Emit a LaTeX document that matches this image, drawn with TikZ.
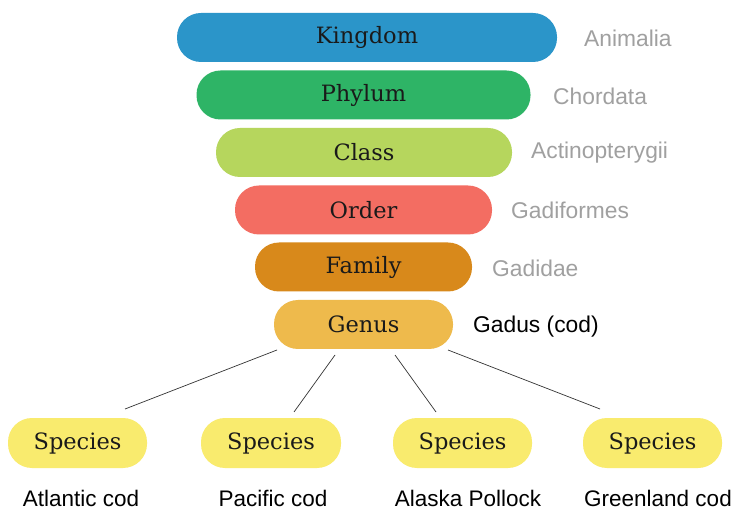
\documentclass[tikz,border=0pt]{standalone}
\usepackage{fontspec}
\setmainfont{DejaVu Serif}
\newfontfamily\labelfont{Liberation Sans}
\definecolor{ckingdom}{HTML}{2B95C9}
\definecolor{cphylum}{HTML}{2EB466}
\definecolor{cclass}{HTML}{B6D65D}
\definecolor{corder}{HTML}{F36D62}
\definecolor{cfamily}{HTML}{D8891B}
\definecolor{cgenus}{HTML}{EEBA4C}
\definecolor{cspecies}{HTML}{F9EB6E}
\definecolor{cgray}{HTML}{A0A0A0}
\definecolor{ctext}{HTML}{1A1A1A}
\begin{document}
\begin{tikzpicture}[x=1pt,y=-1pt,
  rankbox/.style={rounded corners=24pt, minimum height=49pt, inner sep=0pt,
    text=ctext, font=\fontsize{22.5}{26}\selectfont},
  rankname/.style={anchor=west, text=cgray, font=\labelfont\fontsize{22.8}{26}\selectfont, inner sep=0pt},
  speciesname/.style={text=black, font=\labelfont\fontsize{22.5}{26}\selectfont, inner sep=0pt},
  link/.style={draw=black!80, line width=0.7pt}]
\useasboundingbox (0,0) rectangle (736,510);
\fill[white] (0,0) rectangle (736,510);
\node[rankbox, fill=ckingdom, minimum width=380pt] (kingdom) at (367,37.5) {Kingdom};
\node[rankbox, fill=cphylum, minimum width=334pt] (phylum) at (363.5,95) {Phylum};
\node[rankbox, fill=cclass, minimum width=296pt] (class) at (364,152.5) {Class};
\node[rankbox, fill=corder, minimum width=257pt] (order) at (363.5,210) {Order};
\node[rankbox, fill=cfamily, minimum width=217pt] (family) at (363.5,267) {Family};
\node[rankbox, fill=cgenus, minimum width=179pt] (genus) at (363.5,324.5) {Genus};

\node[rankname] (animalia) at (584,38) {Animalia};
\node[rankname] (chordata) at (553,96) {Chordata};
\node[rankname] (actino) at (531,153) {Actinopterygii};
\node[rankname] (gadiformes) at (511,210) {Gadiformes};
\node[rankname] (gadidae) at (492,268) {Gadidae};
\node[rankname, text=black] (gadus) at (473,327) {Gadus (cod)};

\node[rankbox, fill=cspecies, minimum width=139pt, minimum height=50pt] (sp1) at (77.5,443) {Species};
\node[rankbox, fill=cspecies, minimum width=140pt, minimum height=50pt] (sp2) at (271,443) {Species};
\node[rankbox, fill=cspecies, minimum width=139pt, minimum height=50pt] (sp3) at (462.5,443) {Species};
\node[rankbox, fill=cspecies, minimum width=139pt, minimum height=50pt] (sp4) at (652.5,443) {Species};

\node[speciesname] (atl) at (81,498) {Atlantic cod};
\node[speciesname] (pac) at (273,498) {Pacific cod};
\node[speciesname] (ala) at (468,498) {Alaska Pollock};
\node[speciesname] (gre) at (658,498) {Greenland cod};

\coordinate (g1) at (277,350);
\coordinate (g2) at (335,355);
\coordinate (g3) at (395,355);
\coordinate (g4) at (448,350);
\coordinate (s1) at (125,409);
\coordinate (s2) at (294,412);
\coordinate (s3) at (436,412);
\coordinate (s4) at (600,409);
\draw[link] (g1) -- (s1);
\draw[link] (g2) -- (s2);
\draw[link] (g3) -- (s3);
\draw[link] (g4) -- (s4);
\end{tikzpicture}
\end{document}
